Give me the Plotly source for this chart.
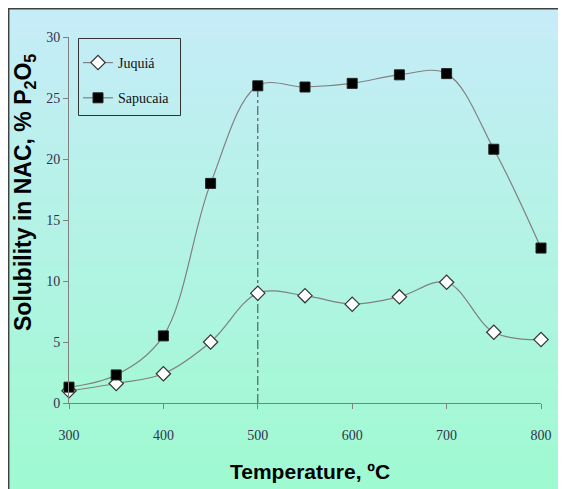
import plotly.graph_objects as go

temps = [300, 350, 400, 450, 500, 550, 600, 650, 700, 750, 800]
juquia = [1.0, 1.6, 2.4, 5.0, 9.0, 8.8, 8.1, 8.7, 9.9, 5.8, 5.2]
sapucaia = [1.3, 2.3, 5.5, 18.0, 26.0, 25.9, 26.2, 26.9, 27.0, 20.8, 12.7]
x_ticks = [300, 400, 500, 600, 700, 800]
y_ticks = [0, 5, 10, 15, 20, 25, 30]

# the page body adds an 8 px offset; pixel positions below are in window coords
OFF = 8
WIN_W, WIN_H = 566, 489
W, H = WIN_W - OFF, WIN_H - OFF
ML, MR, MT, MB = 69 - OFF, 25, 37 - OFF, 86
PW, PH = W - ML - MR, H - MT - MB

def px_x(p):
    return (p - OFF - ML) / PW

def px_y(p):
    return (H - MB - (p - OFF)) / PH

fig = go.Figure()

fig.add_trace(go.Scatter(
    x=[temps[4], temps[4]], y=[0, sapucaia[4]], mode="lines",
    line=dict(color="#444444", width=1, dash="dashdot"),
    showlegend=False, hoverinfo="skip"))

fig.add_trace(go.Scatter(
    x=temps, y=juquia, name="Juquiá", mode="lines+markers",
    line=dict(color="#808080", width=1.2, shape="spline", smoothing=1.0),
    marker=dict(symbol="diamond", size=11, color="white",
                line=dict(color="#333333", width=1.2)),
    cliponaxis=False, legendgroup="a"))

fig.add_trace(go.Scatter(
    x=temps, y=sapucaia, name="Sapucaia", mode="lines+markers",
    line=dict(color="#808080", width=1.2, shape="spline", smoothing=1.0),
    marker=dict(symbol="square", size=10, color="black",
                line=dict(color="#222222", width=1)),
    cliponaxis=False, legendgroup="b"))

shapes = []
top_c = (198, 236, 248)
bot_c = (158, 250, 208)
n = 60
y_top, y_bot = 8, WIN_H + 4
for i in range(n):
    t = i / (n - 1)
    c = tuple(round(top_c[k] + (bot_c[k] - top_c[k]) * t) for k in range(3))
    p0 = y_top + (y_bot - y_top) * i / n
    p1 = y_top + (y_bot - y_top) * (i + 1) / n + 0.6
    shapes.append(dict(type="rect", xref="paper", yref="paper",
                       x0=px_x(7), x1=px_x(WIN_W + 5), y0=px_y(p1), y1=px_y(p0),
                       fillcolor="rgb(%d,%d,%d)" % c, line=dict(width=0),
                       layer="below"))
shapes.append(dict(type="line", xref="paper", yref="paper",
                   x0=px_x(8.7), x1=px_x(8.7), y0=px_y(WIN_H + 4), y1=px_y(8),
                   line=dict(color="#404040", width=1.5), layer="below"))
shapes.append(dict(type="line", xref="paper", yref="paper",
                   x0=px_x(8), x1=px_x(WIN_W + 4), y0=px_y(8.7), y1=px_y(8.7),
                   line=dict(color="#404040", width=1.5), layer="below"))
# legend frame
shapes.append(dict(type="rect", xref="paper", yref="paper",
                   x0=px_x(78.5), x1=px_x(180.5), y0=px_y(115.5), y1=px_y(38.5),
                   line=dict(color="#333333", width=1), fillcolor="rgba(0,0,0,0)",
                   layer="above"))

tick_font = dict(family="Liberation Serif, Times New Roman, serif", size=14, color="#33334d")

fig.update_layout(
    width=W, height=H,
    margin=dict(l=ML, r=MR, t=MT, b=MB),
    paper_bgcolor="white",
    plot_bgcolor="rgba(0,0,0,0)",
    shapes=shapes,
    showlegend=True,
    legend=dict(x=px_x(78), y=px_y(114), xanchor="left", yanchor="bottom",
                bgcolor="rgba(0,0,0,0)", borderwidth=0,
                font=dict(family="Liberation Serif, Times New Roman, serif", size=14, color="#111111"),
                tracegroupgap=14, traceorder="grouped", itemwidth=30),
    xaxis=dict(range=[300, 800], tickvals=x_ticks, showgrid=False, zeroline=False,
               showline=True, linecolor="#808080", linewidth=1,
               ticks="outside", ticklen=5, tickcolor="#808080",
               tickfont=tick_font, ticklabelstandoff=14),
    yaxis=dict(range=[0, 30], tickvals=y_ticks, showgrid=False, zeroline=False,
               showline=True, linecolor="#808080", linewidth=1,
               ticks="outside", ticklen=5, tickcolor="#808080",
               tickfont=tick_font),
    annotations=[
        dict(text="<b>Solubility in NAC, % P<sub>2</sub>O<sub>5</sub></b>",
             xref="paper", yref="paper", x=px_x(24), y=px_y(193),
             xanchor="center", yanchor="middle", textangle=-90, showarrow=False,
             font=dict(family="Liberation Sans, Arial, sans-serif", size=23, color="black")),
        dict(text="<b>Temperature, ºC</b>",
             xref="paper", yref="paper", x=px_x(310), y=px_y(471),
             xanchor="center", yanchor="middle", showarrow=False,
             font=dict(family="Liberation Sans, Arial, sans-serif", size=21, color="black")),
    ],
)

fig.write_html("out.html")
